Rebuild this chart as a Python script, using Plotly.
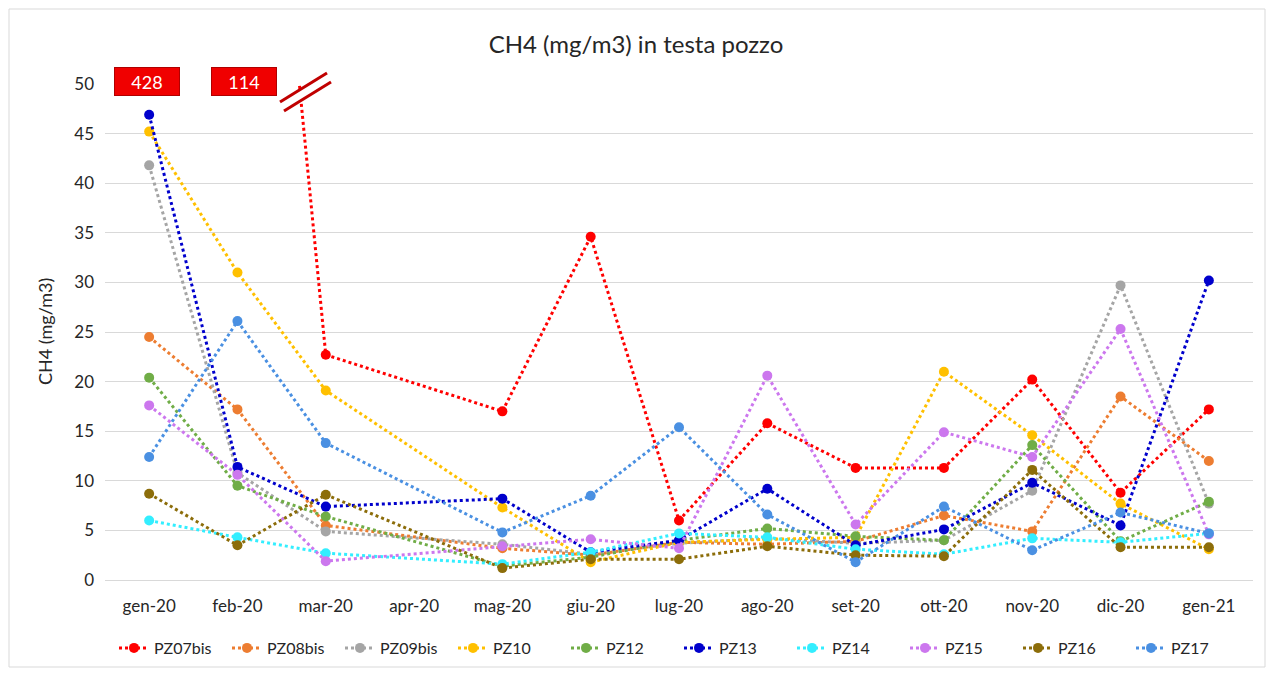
import plotly.graph_objects as go

months = ["gen-20", "feb-20", "mar-20", "apr-20", "mag-20", "giu-20", "lug-20",
          "ago-20", "set-20", "ott-20", "nov-20", "dic-20", "gen-21"]

PZ07bis = [428, 114, 22.7, None, 17.0, 34.6, 6.0, 15.8, 11.3, 11.3, 20.2, 8.8, 17.2]
PZ08bis = [24.5, 17.2, 5.5, None, 3.2, 2.5, 3.8, 3.6, 3.9, 6.5, 4.9, 18.5, 12.0]
PZ09bis = [41.8, 10.8, 4.9, None, 3.6, 2.6, 3.7, 4.2, 3.7, 4.0, 9.0, 29.7, 7.7]
PZ10 = [45.2, 31.0, 19.1, None, 7.3, 1.8, 3.8, 4.1, 4.3, 21.0, 14.6, 7.7, 3.1]
PZ12 = [20.4, 9.5, 6.4, None, 1.4, 2.3, 4.0, 5.2, 4.4, 4.0, 13.6, 3.9, 7.9]
PZ13 = [46.9, 11.4, 7.4, None, 8.2, 2.8, 4.0, 9.2, 3.5, 5.1, 9.8, 5.5, 30.2]
PZ14 = [6.0, 4.3, 2.7, None, 1.6, 2.8, 4.7, 4.3, 3.1, 2.6, 4.2, 3.8, 4.7]
PZ15 = [17.6, 10.6, 1.9, None, 3.4, 4.1, 3.2, 20.6, 5.6, 14.9, 12.4, 25.3, 4.6]
PZ16 = [8.7, 3.5, 8.6, None, 1.2, 2.1, 2.1, 3.4, 2.5, 2.4, 11.1, 3.3, 3.3]
PZ17 = [12.4, 26.1, 13.8, None, 4.8, 8.5, 15.4, 6.6, 1.8, 7.4, 3.0, 6.8, 4.7]

series_names = ["PZ07bis", "PZ08bis", "PZ09bis", "PZ10", "PZ12",
                "PZ13", "PZ14", "PZ15", "PZ16", "PZ17"]
series_values = [PZ07bis, PZ08bis, PZ09bis, PZ10, PZ12,
                 PZ13, PZ14, PZ15, PZ16, PZ17]
colors = ["#FF0000", "#ED7D31", "#A5A5A5", "#FFC000", "#70AD47",
          "#0000CC", "#33EEFF", "#CC77EE", "#8C6D0A", "#4A90E2"]

y_max = 50
FONT = "Lato"
TXT = "#262626"

fig = go.Figure()
for name, vals, col in zip(series_names, series_values, colors):
    fig.add_trace(go.Scatter(
        x=months, y=vals, name=name, mode="lines+markers",
        connectgaps=True,
        line=dict(color=col, width=3, dash="dot"),
        marker=dict(color=col, size=10),
        cliponaxis=True,
    ))

# plot area geometry (pixels) for decorations
L, R, T, B = 105, 1253, 84, 580
W, H = 1272, 673


def px(x):
    return (x - L) / (R - L)


def py(y):
    return (B - y) / (B - T)


annotations = []
# off-scale values shown in red boxes
for i, v in enumerate(PZ07bis):
    if v is not None and v > y_max:
        annotations.append(dict(
            x=months[i], xref="x", y=py(67), yref="paper",
            text=str(v), showarrow=False,
            font=dict(color="white", size=18, family=FONT),
            bgcolor="#F00000", bordercolor="#B00000", borderwidth=1,
            width=62, height=25, xshift=-2 if i == 0 else 7,
        ))

# y-axis title
annotations.append(dict(
    x=px(45), xref="paper", y=0.5, yref="paper", text="CH4 (mg/m3)",
    textangle=-90, showarrow=False, xanchor="center", yanchor="middle",
    font=dict(size=18, color=TXT, family=FONT),
))

shapes = [
    # break mark
    dict(type="path", xref="paper", yref="paper",
         path=f"M {px(280)},{py(103)} L {px(327)},{py(72)} L {px(331)},{py(82)} L {px(284)},{py(112)} Z",
         fillcolor="white", line=dict(width=0), layer="above"),
    dict(type="line", xref="paper", yref="paper", x0=px(280), y0=py(102), x1=px(327), y1=py(73),
         line=dict(color="#C00000", width=3), layer="above"),
    dict(type="line", xref="paper", yref="paper", x0=px(284), y0=py(111), x1=px(331), y1=py(82),
         line=dict(color="#C00000", width=3), layer="above"),
    # outer chart border
    dict(type="rect", xref="paper", yref="paper",
         x0=px(9), y0=py(667), x1=px(1265), y1=py(9),
         line=dict(color="#D9D9D9", width=1), fillcolor="rgba(0,0,0,0)", layer="below"),
]

fig.update_layout(
    width=W, height=H,
    margin=dict(l=L, r=W - R, t=T, b=H - B, autoexpand=False),
    paper_bgcolor="white", plot_bgcolor="white",
    font=dict(family=FONT, size=17, color=TXT),
    title=dict(text="CH4 (mg/m3) in testa pozzo", x=0.5, xanchor="center",
               y=1 - 45 / H, yanchor="middle", yref="container",
               font=dict(size=24, color=TXT, family=FONT)),
    xaxis=dict(type="category", categoryorder="array", categoryarray=months,
               range=[-0.5, len(months) - 0.5],
               showgrid=False, showline=False, zeroline=False, automargin=False,
               ticks="", ticklabelstandoff=14,
               tickfont=dict(size=17, color=TXT)),
    yaxis=dict(range=[0, y_max], dtick=5, showgrid=True, gridcolor="#D9D9D9",
               gridwidth=1, zeroline=True, zerolinecolor="#D9D9D9", zerolinewidth=1,
               showline=False, ticks="", automargin=False, ticklabelstandoff=10,
               tickfont=dict(size=17, color=TXT)),
    legend=dict(orientation="h", x=0.5, xanchor="center", y=py(648), yanchor="middle",
                font=dict(size=16, color=TXT),
                entrywidth=68, entrywidthmode="pixels",
                bgcolor="rgba(0,0,0,0)"),
    annotations=annotations,
    shapes=shapes,
    showlegend=True,
)

fig.write_html("out.html")
